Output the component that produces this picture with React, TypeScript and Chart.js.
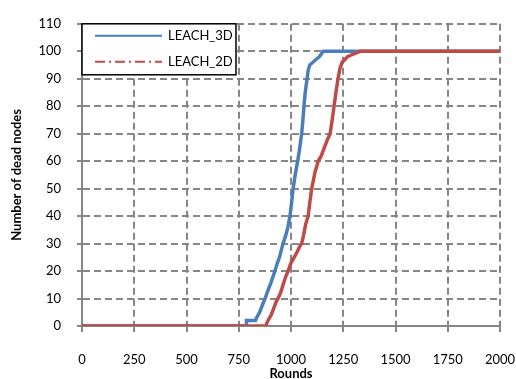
import React, { useEffect, useRef } from "react";
import { Chart, registerables } from "chart.js";

Chart.register(...registerables);

const xTickValues = [0, 250, 500, 750, 1000, 1250, 1500, 1750, 2000];
const yTickValues = [0, 10, 20, 30, 40, 50, 60, 70, 80, 90, 100, 110];

const seriesNames = ["LEACH_3D", "LEACH_2D"];

const leach3dRounds = [0, 785, 787, 830, 835, 850, 865, 876, 890, 905, 923, 935, 945, 955, 962, 975, 985, 995, 1003, 1010, 1020, 1032, 1042, 1051, 1057, 1062, 1068, 1077, 1082, 1090, 1105, 1120, 1135, 1145, 1153, 2000];
const leach3dDead = [0, 0, 2, 2, 3, 5, 8, 10, 13, 16, 20, 23, 25, 28, 30, 33, 36, 40, 45, 50, 55, 60, 65, 70, 75, 80, 85, 90, 93, 95, 96, 97, 98, 99, 100, 100];

const leach2dRounds = [0, 880, 884, 890, 905, 920, 930, 938, 950, 962, 975, 986, 1000, 1015, 1030, 1042, 1051, 1060, 1070, 1082, 1090, 1099, 1115, 1130, 1145, 1160, 1175, 1187, 1197, 1206, 1215, 1225, 1235, 1245, 1258, 1270, 1300, 1330, 2000];
const leach2dDead = [0, 0, 1, 2, 4, 7, 9, 10, 12, 15, 18, 20, 23, 25, 27, 29, 30, 33, 37, 40, 45, 50, 56, 60, 62, 65, 68, 70, 75, 80, 85, 90, 94, 96, 97, 98, 99, 100, 100];

const blue = "#4a7ebb";
const red = "#be4b48";
const gridGray = "#868686";
const FONT = "Lato, 'Open Sans', sans-serif";

function toPoints(xs: number[], ys: number[]) {
  return xs.map((x, i) => ({ x, y: ys[i] }));
}

const legendPlugin = {
  id: "boxLegend",
  afterDraw(chart: any) {
    const { ctx, chartArea } = chart;
    const left = chartArea.left;
    const top = chartArea.top;
    const w = 154;
    const h = 51;
    ctx.save();
    ctx.fillStyle = "#ffffff";
    ctx.fillRect(left, top, w, h);
    ctx.strokeStyle = "#000000";
    ctx.lineWidth = 1.5;
    ctx.strokeRect(left, top, w, h);
    const rows = [
      { name: seriesNames[0], color: blue, dash: [] as number[], y: top + 12 },
      { name: seriesNames[1], color: red, dash: [10, 4, 2, 4], y: top + 38 },
    ];
    rows.forEach((r) => {
      ctx.beginPath();
      ctx.setLineDash(r.dash);
      ctx.strokeStyle = r.color;
      ctx.lineWidth = 2;
      ctx.moveTo(left + 13, r.y);
      ctx.lineTo(left + 80, r.y);
      ctx.stroke();
      ctx.setLineDash([]);
      ctx.fillStyle = "#000000";
      ctx.font = `13px ${FONT}`;
      ctx.textBaseline = "middle";
      ctx.textAlign = "left";
      ctx.fillText(r.name, left + 86, r.y);
    });
    ctx.restore();
  },
};

export default function App() {
  const ref = useRef<HTMLCanvasElement | null>(null);

  useEffect(() => {
    document.body.style.margin = "0";
    const canvas = ref.current;
    if (!canvas) return;
    const chart = new Chart(canvas, {
      type: "line",
      data: {
        datasets: [
          {
            label: seriesNames[0],
            data: toPoints(leach3dRounds, leach3dDead),
            borderColor: blue,
            backgroundColor: blue,
            borderWidth: 3.5,
            pointRadius: 0,
            fill: false,
            order: 1,
          },
          {
            label: seriesNames[1],
            data: toPoints(leach2dRounds, leach2dDead),
            borderColor: red,
            backgroundColor: red,
            borderWidth: 3.5,
            pointRadius: 0,
            fill: false,
            order: 0,
          },
        ],
      },
      options: {
        responsive: false,
        animation: false,
        layout: { padding: { left: 0, right: 16, top: 15, bottom: 0 } },
        plugins: {
          legend: { display: false },
          tooltip: { enabled: false },
        },
        scales: {
          x: {
            type: "linear",
            min: 0,
            max: 2000,
            afterBuildTicks: (scale: any) => {
              scale.ticks = xTickValues.map((v) => ({ value: v }));
            },
            afterFit: (scale: any) => {
              scale.height = 53;
              scale.paddingRight = 16;
              scale.paddingLeft = 0;
            },
            ticks: {
              color: "#000000",
              font: { family: FONT, size: 13 },
              padding: 20,
              maxRotation: 0,
              autoSkip: false,
              callback: (v: any) => String(v),
            },
            grid: {
              color: gridGray,
              lineWidth: 2,
              tickLength: 6,
              tickColor: gridGray,
              tickBorderDash: [7, 4],
            } as any,
            border: { display: true, color: gridGray, width: 2, dash: [7, 4] },
            title: {
              display: true,
              text: "Rounds",
              color: "#000000",
              font: { family: FONT, size: 13, weight: "bold" },
              padding: { top: 0, bottom: -3 },
            },
          },
          y: {
            type: "linear",
            min: 0,
            max: 110,
            afterBuildTicks: (scale: any) => {
              scale.ticks = yTickValues.map((v) => ({ value: v }));
            },
            afterFit: (scale: any) => {
              scale.width = 82;
            },
            ticks: {
              color: "#000000",
              font: { family: FONT, size: 13 },
              padding: 16,
            },
            grid: {
              color: gridGray,
              lineWidth: 2,
              tickLength: 5,
              tickColor: gridGray,
              tickBorderDash: [4, 2],
            } as any,
            border: { display: true, color: gridGray, width: 2, dash: [7, 4] },
            title: {
              display: true,
              text: "Number of dead nodes",
              color: "#000000",
              font: { family: FONT, size: 13, weight: "bold" },
              padding: { top: 9, bottom: 0 },
            },
          },
        },
      },
      plugins: [legendPlugin],
    } as any);
    return () => chart.destroy();
  }, []);

  return (
    <canvas
      ref={ref}
      width={516}
      height={379}
      style={{ display: "block", width: 516, height: 379 }}
    />
  );
}
